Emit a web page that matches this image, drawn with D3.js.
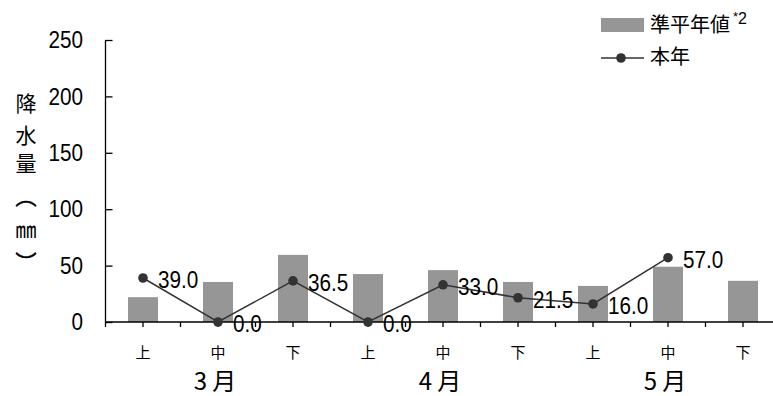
<!DOCTYPE html>
<html lang="ja">
<head>
<meta charset="utf-8">
<script src="https://cdn.jsdelivr.net/npm/d3@7"></script>
<style>
  body { margin: 0; background: #fff; }
  .num { font-family: "Liberation Sans", Arial, sans-serif; }
  .cjk { font-family: "Noto Sans CJK JP", sans-serif; }
</style>
</head>
<body>
<div id="chart"></div>
<script>
// data
var periods = ["上", "中", "下", "上", "中", "下", "上", "中", "下"];
var months = ["3 月", "4 月", "5 月"];
var normals = [22, 35.5, 59.5, 42.5, 46, 35.5, 32, 49, 36.5];
var thisYear = [39.0, 0.0, 36.5, 0.0, 33.0, 21.5, 16.0, 57.0, null];
var yTicks = [0, 50, 100, 150, 200, 250];

var W = 773, H = 396;
var svg = d3.select("#chart").append("svg")
    .attr("width", W).attr("height", H);

var idx = d3.range(periods.length);
var x = d3.scaleBand().domain(idx).range([105.5, 780.5]);
var y = d3.scaleLinear().domain([0, 250]).range([322, 40]);
var barW = x.bandwidth() * 0.4;

// bars
svg.append("g").selectAll("rect")
    .data(normals)
    .enter().append("rect")
    .attr("x", function(d, i) { return x(i) + (x.bandwidth() - barW) / 2; })
    .attr("y", function(d) { return y(d); })
    .attr("width", barW)
    .attr("height", function(d) { return y(0) - y(d); })
    .attr("fill", "#969696");

// y axis
var yAxis = svg.append("g")
    .attr("transform", "translate(105.5,0)")
    .call(d3.axisRight(y).tickValues(yTicks).tickSize(7).tickFormat(""));
yAxis.select(".domain").attr("d", "M0," + y(250) + "V" + y(0)).attr("stroke", "#000").attr("stroke-width", 1.3);
yAxis.selectAll(".tick line").attr("stroke", "#000").attr("stroke-width", 1.3);

svg.append("g").selectAll("text")
    .data(yTicks)
    .enter().append("text")
    .attr("class", "num")
    .attr("text-anchor", "end")
    .attr("font-size", 23)
    .attr("dy", "0.36em")
    .attr("transform", function(d) { return "translate(83," + y(d) + ") scale(0.9,1)"; })
    .text(function(d) { return d; });

// x axis
var bounds = d3.range(periods.length + 1).map(function(i) { return 105.5 + i * x.bandwidth(); });
var centers = idx.map(function(i) { return x(i) + x.bandwidth() / 2; });
var xg = svg.append("g");
xg.append("line")
    .attr("x1", 105.5).attr("x2", W)
    .attr("y1", y(0)).attr("y2", y(0))
    .attr("stroke", "#000").attr("stroke-width", 1.5);
xg.selectAll(".tk")
    .data(bounds.concat(centers))
    .enter().append("line")
    .attr("x1", function(d) { return d; }).attr("x2", function(d) { return d; })
    .attr("y1", y(0)).attr("y2", y(0) + 5)
    .attr("stroke", "#000").attr("stroke-width", 1.3);

xg.selectAll(".per")
    .data(periods)
    .enter().append("text")
    .attr("class", "cjk")
    .attr("x", function(d, i) { return centers[i]; })
    .attr("y", 358)
    .attr("text-anchor", "middle")
    .attr("font-size", 15)
    .text(function(d) { return d; });

xg.selectAll(".mon")
    .data(months)
    .enter().append("text")
    .attr("class", "cjk")
    .attr("x", function(d, i) { return centers[i * 3 + 1] - 3; })
    .attr("y", 390)
    .attr("text-anchor", "middle")
    .attr("font-size", 24)
    .text(function(d) { return d; });

// line series
var pts = thisYear.map(function(v, i) { return { i: i, v: v }; })
    .filter(function(d) { return d.v !== null; });
var line = d3.line()
    .x(function(d) { return centers[d.i]; })
    .y(function(d) { return y(d.v); });
svg.append("path")
    .datum(pts)
    .attr("d", line)
    .attr("fill", "none")
    .attr("stroke", "#333")
    .attr("stroke-width", 1.5);
svg.append("g").selectAll("circle")
    .data(pts)
    .enter().append("circle")
    .attr("cx", function(d) { return centers[d.i]; })
    .attr("cy", function(d) { return y(d.v); })
    .attr("r", 4.8)
    .attr("fill", "#333");
svg.append("g").selectAll("text")
    .data(pts)
    .enter().append("text")
    .attr("class", "num")
    .attr("font-size", 23)
    .attr("dy", "0.36em")
    .attr("transform", function(d) {
        return "translate(" + (centers[d.i] + 15) + "," + (y(d.v) + 2) + ") scale(0.9,1)";
    })
    .text(function(d) { return d.v.toFixed(1); });

// y axis title
var title = [["降", 103], ["水", 135], ["量", 163], ["︵", 196], ["㎜", 229], ["︶", 262]];
svg.append("g").selectAll("text")
    .data(title)
    .enter().append("text")
    .attr("class", "cjk")
    .attr("x", 26)
    .attr("y", function(d) { return d[1]; })
    .attr("dy", "0.36em")
    .attr("text-anchor", "middle")
    .attr("font-size", 21)
    .attr("stroke", function(d) { return d[0] === "︵" || d[0] === "︶" ? "#000" : "none"; })
    .attr("stroke-width", 0.6)
    .text(function(d) { return d[0]; });

// legend
var lg = svg.append("g");
lg.append("rect").attr("x", 601).attr("y", 18).attr("width", 43).attr("height", 14).attr("fill", "#969696");
lg.append("text").attr("class", "cjk").attr("x", 650).attr("y", 32).attr("font-size", 20).text("準平年値");
lg.append("text").attr("class", "num").attr("x", 733).attr("y", 21).attr("font-size", 13).text("*");
lg.append("text").attr("class", "num").attr("x", 738).attr("y", 24).attr("font-size", 16).text("2");
lg.append("line").attr("x1", 601).attr("x2", 644).attr("y1", 58).attr("y2", 58)
    .attr("stroke", "#333").attr("stroke-width", 1.5);
lg.append("circle").attr("cx", 621).attr("cy", 58).attr("r", 4.8).attr("fill", "#333");
lg.append("text").attr("class", "cjk").attr("x", 650).attr("y", 64).attr("font-size", 20).text("本年");
</script>
</body>
</html>
